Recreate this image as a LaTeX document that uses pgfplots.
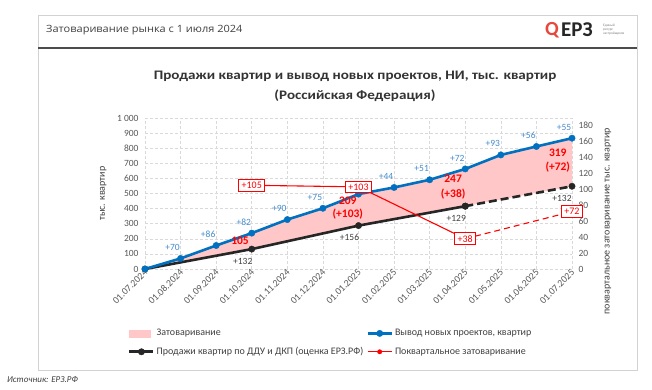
\documentclass[border=0pt]{standalone}
\usepackage{fontspec}
\setmainfont{Carlito}
\newfontfamily\hdrfont{Open Sans}
\usepackage{graphicx}
\usepackage{pgfplots}
\usepackage{pgfplotstable}
\pgfplotsset{compat=1.18}
\definecolor{bluec}{RGB}{0,112,192}
\definecolor{bluel}{RGB}{68,140,206}
\definecolor{darkc}{RGB}{38,38,38}
\definecolor{titlec}{RGB}{51,51,51}
\definecolor{pinkc}{RGB}{255,199,199}
\definecolor{redc}{RGB}{255,0,0}
\definecolor{gridc}{RGB}{217,217,217}
\definecolor{tickc}{RGB}{89,89,89}
\definecolor{labc}{RGB}{64,64,64}
\definecolor{framec}{RGB}{210,210,210}
\definecolor{logored}{RGB}{232,72,60}
\newcommand{\fs}[1]{\fontsize{#1}{#1}\selectfont}
\newcommand{\fsb}[2]{\fontsize{#1}{#2}\selectfont}
\pgfplotsset{
  mylegline/.style={legend image code/.code={\draw[mark repeat=2,mark phase=2,##1] plot coordinates {(0pt,0pt) (12pt,0pt) (24pt,0pt)};}},
  mypink/.style={legend image code/.code={\fill[pinkc] (0pt,-3.5pt) rectangle (21pt,3.5pt);}},
}
\pgfplotstableread{
x y lab
0 0 {}
1 70 +70
2 156 +86
3 238 +82
4 328 +90
5 403 +75
6 497 {}
7 541 +44
8 592 +51
9 664 +72
10 757 +93
11 813 +56
12 868 +55
}\newproj
\pgfplotstableread{
x y lab
0 0 {}
3 132 +132
6 288 +156
9 417 +129
}\salesA
\pgfplotstableread{
x y lab
9 417 {}
12 549 +132
}\salesB
% overstock area: new projects (forward) and sales (backward)
\pgfplotstableread{
x y
0 0
1 70
2 156
3 238
4 328
5 403
6 497
7 541
8 592
9 664
10 757
11 813
12 868
12 549
9 417
6 288
3 132
0 0
}\overstock
\pgfplotstableread{
x y lab
3 105 +105
6 103 +103
9 38 +38
}\qA
\pgfplotstableread{
x y
9 38
12 72
}\qB
\pgfplotstableread{
x y lab
12 72 +72
}\qC
\begin{document}
\begin{tikzpicture}
\fill[white] (0,0) rectangle (652pt,390pt);
\draw[framec, line width=0.6pt] (38pt,20pt) rectangle (637pt,375pt);
\draw[gray!60!black, line width=1.4pt] (38pt,342pt) -- (637pt,342pt);
\node[anchor=west, font=\hdrfont\fs{10}, text=labc, inner sep=0pt] at (46pt,360pt) {\scalebox{1.1}[1]{Затоваривание рынка с 1 июля 2024}};
\node[font=\bfseries\fs{20}, text=logored, inner sep=0pt] at (552pt,360pt) {Q};
\node[anchor=west, font=\bfseries\fs{21}, text=darkc, inner sep=0pt] at (561pt,360pt) {ЕРЗ};
\node[anchor=west, font=\fsb{3.5}{4}, text=gray, align=left, inner sep=0pt] at (603pt,360pt) {Единый\\ресурс\\застройщиков};
\node[anchor=base, font=\bfseries\fs{13}, text=titlec, inner sep=0pt] at (355pt,310pt) {\scalebox{1.16}[1]{Продажи квартир и вывод новых проектов, НИ, тыс. квартир}};
\node[anchor=base, font=\bfseries\fs{13}, text=titlec, inner sep=0pt] at (355pt,290pt) {\scalebox{1.16}[1]{(Российская Федерация)}};
\node[anchor=west, font=\itshape\fs{9}, text=labc, inner sep=0pt] at (7pt,10pt) {Источник: ЕРЗ.РФ};

\begin{axis}[
  at={(145pt,121pt)}, anchor=south west,
  scale only axis, width=427pt, height=150.7pt,
  xmin=0, xmax=12, ymin=0, ymax=1000,
  xtick={0,...,12},
  xticklabels={01.07.2024,01.08.2024,01.09.2024,01.10.2024,01.11.2024,01.12.2024,01.01.2025,01.02.2025,01.03.2025,01.04.2025,01.05.2025,01.06.2025,01.07.2025},
  ytick={0,100,...,1000},
  yticklabels={0,100,200,300,400,500,600,700,800,900,1 000},
  grid=major, major grid style={gridc, dash pattern=on 3pt off 2pt, line width=0.6pt},
  axis line style={draw=none}, tick style={draw=none},
  xticklabel style={rotate=45, anchor=east, font=\fs{9.8}, text=tickc, inner sep=1.5pt, yshift=-2pt, xshift=1pt},
  yticklabel style={font=\fs{9.5}, text=tickc, xshift=-3pt},
  clip=false,
]
\addplot[fill=pinkc, draw=none, forget plot] table[x=x,y=y] {\overstock} -- cycle;
\addplot[darkc, line width=2.6pt, mark=*, mark size=3.2pt, mark options={solid, line width=0.4pt},
  nodes near coords, point meta=explicit symbolic,
  nodes near coords style={font=\fs{9.5}, text=labc, anchor=center, xshift=-9pt, yshift=-12pt}]
  table[x=x,y=y,meta=lab] {\salesA};
\addplot[darkc, line width=2.6pt, dash pattern=on 8pt off 4pt, mark=*, mark size=3.2pt, mark options={solid, line width=0.4pt},
  nodes near coords, point meta=explicit symbolic,
  nodes near coords style={font=\fs{9.5}, text=labc, anchor=center, xshift=-10pt, yshift=-12pt}]
  table[x=x,y=y,meta=lab] {\salesB};
\addplot[bluec, line width=2.6pt, mark=*, mark size=3.2pt, mark options={solid, line width=0.4pt},
  nodes near coords, point meta=explicit symbolic,
  nodes near coords style={font=\fs{9.5}, text=bluel, anchor=center, xshift=-8pt, yshift=11pt}]
  table[x=x,y=y,meta=lab] {\newproj};
\node[font=\bfseries\fs{11.5}, text=redc] at (axis cs:2.67,186) {105};
\node[font=\bfseries\fsb{11.5}{13.5}, text=redc, align=center] at (axis cs:5.7,405) {209\\(+103)};
\node[font=\bfseries\fsb{11.5}{14.5}, text=redc, align=center] at (axis cs:8.66,544) {247\\(+38)};
\node[font=\bfseries\fsb{11.5}{14}, text=redc, align=center] at (axis cs:11.6,717) {319\\(+72)};
\node[rotate=90, font=\fs{10}, text=labc] at (rel axis cs:-0.098,0.5) {тыс. квартир};
\end{axis}

\begin{axis}[
  at={(145pt,121pt)}, anchor=south west,
  scale only axis, width=427pt, height=150.7pt,
  xmin=0, xmax=12, ymin=0, ymax=189,
  axis x line=none, axis y line*=right,
  axis line style={draw=none}, tick style={draw=none},
  ytick={0,20,...,180},
  yticklabel style={font=\fs{9.5}, text=tickc, xshift=3pt},
  /pgf/number format/assume math mode=true,
  clip=false,
  legend columns=2,
  legend cell align=left,
  legend style={at={(rel axis cs:-0.047,-0.373)}, anchor=north west, draw=none, fill=none,
    font=\fs{10}, text=labc, row sep=6pt,
    /tikz/every even column/.append style={column sep=1pt}},
]
\addlegendimage{mypink}
\addlegendentry{Затоваривание}
\addlegendimage{mylegline, bluec, line width=2.6pt, mark=*, mark size=3.2pt, mark options={solid, line width=0.4pt}}
\addlegendentry{Вывод новых проектов, квартир}
\addlegendimage{mylegline, darkc, line width=2.6pt, mark=*, mark size=3.2pt, mark options={solid, line width=0.4pt}}
\addlegendentry{Продажи квартир по ДДУ и ДКП (оценка ЕРЗ.РФ)}
\addlegendimage{mylegline, redc, line width=1.2pt, mark=*, mark size=2.2pt, mark options={solid, line width=0.4pt}}
\addlegendentry{Поквартальное затоваривание}
\addplot[redc, line width=1.1pt, forget plot,
  nodes near coords, point meta=explicit symbolic,
  nodes near coords style={font=\fs{10}, text=redc, draw=redc, fill=white, line width=0.8pt, anchor=center, inner xsep=3pt, inner ysep=2.5pt}]
  table[x=x,y=y,meta=lab] {\qA};
\addplot[redc, line width=1.1pt, dash pattern=on 6pt off 4pt, forget plot] table[x=x,y=y] {\qB};
\addplot[draw=none, mark=none, forget plot,
  nodes near coords, point meta=explicit symbolic,
  nodes near coords style={font=\fs{10}, text=redc, draw=redc, fill=white, line width=0.8pt, anchor=center, inner xsep=3pt, inner ysep=2.5pt}]
  table[x=x,y=y,meta=lab] {\qC};
\node[rotate=90, font=\fs{10}, text=labc] at (rel axis cs:1.084,0.318) {поквартальное затоваривание тыс. квартир};
\end{axis}
\end{tikzpicture}
\end{document}
